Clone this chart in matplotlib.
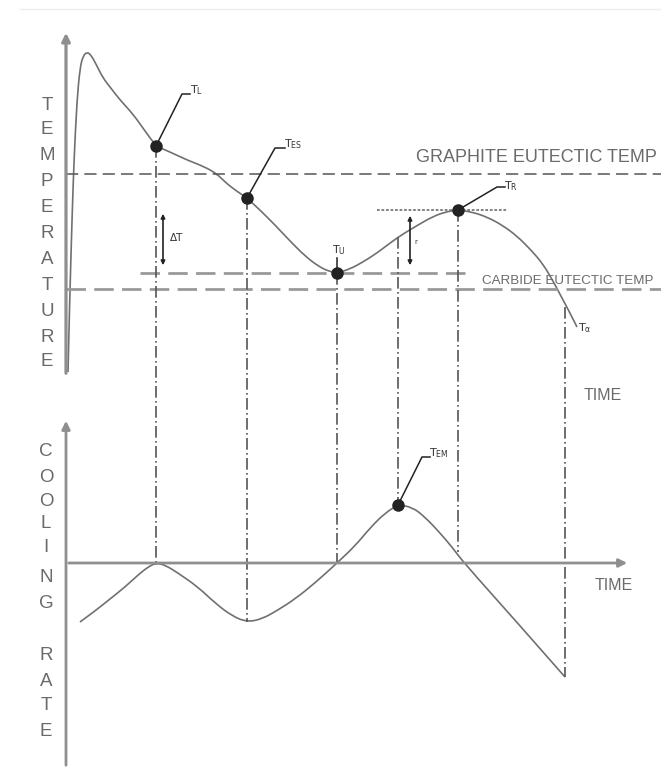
import matplotlib.pyplot as plt
from matplotlib.path import Path
from matplotlib.patches import PathPatch

# schematic drawn in picture units (x to the right, y downwards)
temp_x = [68, 69, 70, 72, 74, 77, 80, 83, 87, 91, 96, 103, 110, 120, 133, 145, 156,
          170, 187, 205, 217, 225, 235, 247, 262, 275, 290, 305, 318, 328, 337,
          350, 363, 377, 390, 403, 418, 432, 445, 458, 472, 487, 502, 517, 531,
          543, 553, 562, 570, 577]
temp_y = [372, 330, 290, 220, 160, 100, 68, 56, 52, 55, 64, 78, 87, 100, 114, 131, 146,
          152, 160, 167, 174, 182, 190, 198, 212, 225, 241, 256, 266, 271, 273,
          269, 262, 253, 243, 234, 225, 217, 212, 210, 212, 217, 225, 236, 250,
          264, 281, 298, 313, 327]

cool_x = [80, 95, 110, 125, 138, 148, 156, 165, 178, 198, 215, 232, 247, 262, 278,
          295, 315, 337, 355, 370, 385, 398, 412, 425, 440, 452, 464, 515, 565]
cool_y = [622, 611, 599, 587, 575, 567, 563, 565, 573, 587, 603, 616, 622, 619, 610,
          599, 583, 563, 546, 528, 513, 505, 507, 517, 533, 547, 563, 620, 677]

# characteristic points: x, y on the upper curve, y where the drop line ends
point_names = ["TL", "TES", "TU", "TR", "TEM", "Tα"]
point_x = [156, 247, 337, 458, 398, 565]
point_top = [146, 198, 273, 210, 237, 307]
point_bottom = [563, 622, 563, 552, 505, 677]

graphite_y = 174
carbide_y = 289
tu_level = 273
tr_level = 210

axis_col = "#8f8f8f"
line_col = "#707070"
text_col = "#6a6a6a"


def smooth_path(xs, ys):
    # quadratic bezier through midpoints, points act as control points
    verts = [(xs[0], ys[0])]
    codes = [Path.MOVETO]
    for i in range(1, len(xs) - 1):
        mx = (xs[i] + xs[i + 1]) / 2
        my = (ys[i] + ys[i + 1]) / 2
        if i == len(xs) - 2:
            mx, my = xs[-1], ys[-1]
        verts += [(xs[i], ys[i]), (mx, my)]
        codes += [Path.CURVE3, Path.CURVE3]
    return Path(verts, codes)


fig = plt.figure(figsize=(6.61, 7.72), dpi=100)
ax = fig.add_axes([0, 0, 1, 1])
ax.set_xlim(0, 661)
ax.set_ylim(772, 0)
ax.axis("off")

# faint border at top
ax.plot([20, 661], [9, 9], color="#eeeeee", lw=1)

# axes with arrows
ax.annotate("", xy=(66, 30), xytext=(66, 376),
            arrowprops=dict(arrowstyle="-|>", color=axis_col, lw=2.3, mutation_scale=12))
ax.annotate("", xy=(66, 418), xytext=(66, 768),
            arrowprops=dict(arrowstyle="-|>", color=axis_col, lw=2.0, mutation_scale=12))
ax.annotate("", xy=(630, 563), xytext=(66, 563),
            arrowprops=dict(arrowstyle="-|>", color=axis_col, lw=2.0, mutation_scale=12))

# reference temperatures
ax.plot([66, 661], [graphite_y, graphite_y], color="#555555", lw=1.1, dashes=(8, 4))
ax.plot([66, 661], [carbide_y, carbide_y], color="#999999", lw=2.0, dashes=(7, 3))
ax.plot([140, 470], [tu_level, tu_level], color="#999999", lw=2.0, dashes=(7, 3))
ax.plot([377, 507], [tr_level, tr_level], color="#777777", lw=1.3, dashes=(1.5, 1))

# drop lines
for px, t, b in zip(point_x, point_top, point_bottom):
    ax.plot([px, px], [t, b], color="#555555", lw=1.2, dashes=(7, 2, 1, 2))

# curves
ax.add_patch(PathPatch(smooth_path(temp_x, temp_y), fill=False, ec=line_col, lw=1.2))
ax.add_patch(PathPatch(smooth_path(cool_x, cool_y), fill=False, ec=line_col, lw=1.2))

# dots
dot_x = [156, 247, 337, 458, 398]
dot_y = [146, 198, 273, 210, 505]
ax.plot(dot_x, dot_y, "o", color="#222222", ms=8, zorder=5)

# leaders
ax.plot([156, 182, 190], [146, 94, 94], color="#222222", lw=1.1)
ax.plot([247, 275, 285], [198, 148, 148], color="#222222", lw=1.1)
ax.plot([337, 337], [273, 258], color="#222222", lw=1.1)
ax.plot([458, 497, 505], [210, 187, 187], color="#222222", lw=1.1)
ax.plot([398, 422, 430], [505, 457, 457], color="#222222", lw=1.1)

small = dict(fontsize=8, color="#333333")
ax.text(190, 90, "T$_\\mathregular{L}$", ha="left", va="center", **small)
ax.text(284, 144, "T$_\\mathregular{ES}$", ha="left", va="center", **small)
ax.text(332, 250, "T$_\\mathregular{U}$", ha="left", va="center", **small)
ax.text(504, 186, "T$_\\mathregular{R}$", ha="left", va="center", **small)
ax.text(429, 453, "T$_\\mathregular{EM}$", ha="left", va="center", **small)
ax.text(578, 328, "T$_\\mathregular{α}$", ha="left", va="center", **small)

# delta T arrows
ax.annotate("", xy=(163, 211), xytext=(163, 268),
            arrowprops=dict(arrowstyle="<|-|>", color="#222222", lw=1.2, mutation_scale=6))
ax.text(170, 238, "ΔT", fontsize=7.5, color="#333333", ha="left", va="center")
ax.annotate("", xy=(410, 213), xytext=(410, 268),
            arrowprops=dict(arrowstyle="<|-|>", color="#222222", lw=1.2, mutation_scale=6))
ax.text(414, 242, "r", fontsize=5, color="#333333", ha="left", va="center")

# texts
big = dict(color=text_col, family=["Liberation Sans", "DejaVu Sans"])
ax.text(536, 157, "GRAPHITE EUTECTIC TEMP", fontsize=13, ha="center", va="center", **big)
ax.text(482, 281, "CARBIDE EUTECTIC TEMP", fontsize=9.6, ha="left", va="center", **big)
ax.text(603, 396, "TIME", fontsize=11.5, ha="center", va="center", **big)
ax.text(614, 585, "TIME", fontsize=11.5, ha="center", va="center", **big)

temp_letters = list("TEMPERATURE")
temp_letter_y = [105, 130, 156, 182, 208, 233, 260, 285, 312, 337, 362]
for ch, yy in zip(temp_letters, temp_letter_y):
    ax.text(47, yy, ch, fontsize=13.5, ha="center", va="center", **big)

cool_letters = list("COOLINGRATE")
cool_letter_y = [452, 477, 501, 523, 547, 577, 604, 655, 681, 706, 732]
for ch, yy in zip(cool_letters, cool_letter_y):
    ax.text(46, yy, ch, fontsize=13.5, ha="center", va="center", **big)

fig.savefig("out.png", dpi=100)
